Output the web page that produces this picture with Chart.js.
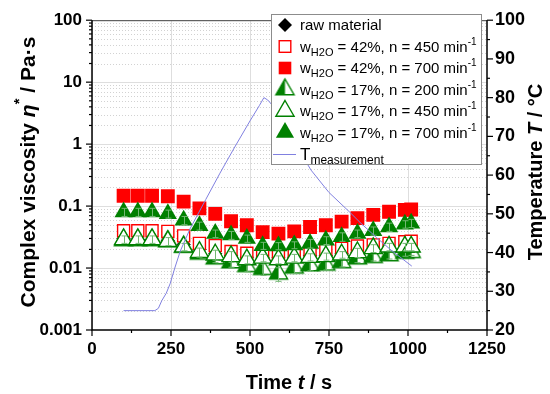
<!DOCTYPE html>
<html><head><meta charset="utf-8">
<script src="https://cdn.jsdelivr.net/npm/chart.js@4/dist/chart.umd.min.js"></script>
<style>html,body{margin:0;padding:0;background:#fff}canvas{display:block}</style>
</head><body>
<canvas id="c" width="550" height="394"></canvas>
<script>
// ---------------- data ----------------
const times = [100,145,190,240,290,340,390,440,490,540,590,640,690,740,790,840,890,940,990,1010];
const rawMaterial = [0.030,0.029,0.029,0.028,0.024,0.020,0.017,0.016,0.015,0.015,0.015,0.015,0.016,0.016,0.017,0.018,0.018,0.019,0.019,0.019];
const rawErr      = [0.004,0.004,0.004,0.004,0.004,0.004,0.004,0.004,0.004,0.004,0.004,0.004,0.005,0.005,0.004,0.004,0.004,0.003,0.003,0.003];
const w42n450 = [0.040,0.040,0.040,0.039,0.033,0.025,0.023,0.0185,0.0173,0.0173,0.016,0.0171,0.0178,0.0196,0.0208,0.0227,0.0236,0.025,0.0265,0.027];
const w42n700 = [0.147,0.147,0.147,0.144,0.118,0.092,0.075,0.057,0.049,0.038,0.036,0.039,0.046,0.049,0.056,0.064,0.072,0.081,0.087,0.088];
const w17n200 = [0.028,0.028,0.028,0.027,0.022,0.017,0.0142,0.0123,0.0107,0.0096,0.0081,0.0101,0.011,0.0113,0.0124,0.0142,0.015,0.016,0.0175,0.018];
const w17n200Err = [0.003,0.003,0.003,0.003,0.003,0.002,0.002,0.002,0.002,0.002,0.002,0.002,0.002,0.002,0.002,0.002,0.002,0.002,0.002,0.002];
const w17n450 = [0.029,0.029,0.029,0.027,0.022,0.018,0.0164,0.0154,0.0137,0.0146,0.0137,0.0146,0.015,0.0154,0.0164,0.0178,0.0208,0.022,0.022,0.022];
const w17n450Err = [0.004,0.004,0.004,0.004,0.003,0.003,0.003,0.003,0.002,0.002,0.002,0.002,0.002,0.002,0.002,0.003,0.003,0.003,0.003,0.003];
const w17n700 = [0.080,0.080,0.080,0.075,0.059,0.048,0.036,0.034,0.030,0.023,0.0227,0.0235,0.025,0.028,0.032,0.036,0.040,0.046,0.051,0.053];
const w17n700Err = [0.012,0.012,0.012,0.011,0.009,0.007,0.005,0.005,0.004,0.003,0.003,0.003,0.004,0.004,0.005,0.005,0.006,0.007,0.007,0.008];
const tempTime  = [100,199,210,221,235,247,262,279,310,360,405,450,500,530,544,556,569,693,750,816,848,900,950,1012];
const tempValue = [25,25,25.6,27.6,29.5,31.9,36,40.3,46.1,53.7,60.5,67,74,78,80,79.4,78.2,61.3,55.5,50.4,47.8,43.9,40.4,36.5];
const xTicks = [0,250,500,750,1000,1250];
const xTickLabels = ['0','250','500','750','1000','1250'];
const yTicks = [0.001,0.01,0.1,1,10,100];
const yTickLabels = ['0.001','0.01','0.1','1','10','100'];
const y2Ticks = [20,30,40,50,60,70,80,90,100];
const y2TickLabels = ['20','30','40','50','60','70','80','90','100'];
const waterContent = ['42%','42%','17%','17%','17%'];
const screwSpeed = ['450','700','200','450','700'];

// ---------------- styling ----------------
const FF = '"Liberation Sans", Arial, Helvetica, sans-serif';
const GREEN = '#008000', RED = '#ff0000', TCOL = '#8080e0', EGREEN = '#72b872';

function pts(vals){ return times.map((t,i)=>({x:t, y:vals[i]})); }

function mkHalfTri(r, color){
  const s = Math.ceil(2*r+4); const c = document.createElement('canvas'); c.width=s; c.height=s;
  const g = c.getContext('2d'); const cx=s/2, cy=s/2, h=r*Math.sqrt(3)/2;
  g.beginPath(); g.moveTo(cx,cy-r); g.lineTo(cx+h,cy+r/2); g.lineTo(cx-h,cy+r/2); g.closePath();
  g.fillStyle='#fff'; g.fill();
  g.beginPath(); g.moveTo(cx,cy-r); g.lineTo(cx,cy+r/2); g.lineTo(cx-h,cy+r/2); g.closePath();
  g.fillStyle=color; g.fill();
  g.beginPath(); g.moveTo(cx,cy-r); g.lineTo(cx+h,cy+r/2); g.lineTo(cx-h,cy+r/2); g.closePath();
  g.lineWidth=1.4; g.strokeStyle=color; g.stroke();
  return c;
}
const halfTri = mkHalfTri(10.5, GREEN);

function drawMarker(ctx, kind, x, y){
  ctx.save();
  const tri = (r)=>{ const h=r*Math.sqrt(3)/2; ctx.beginPath(); ctx.moveTo(x,y-r); ctx.lineTo(x+h,y+r/2); ctx.lineTo(x-h,y+r/2); ctx.closePath(); };
  if (kind==='diamond'){ const r=7; ctx.beginPath(); ctx.moveTo(x,y-r); ctx.lineTo(x+r,y); ctx.lineTo(x,y+r); ctx.lineTo(x-r,y); ctx.closePath(); ctx.fillStyle='#000'; ctx.fill(); }
  else if (kind==='openSquare'){ const s=5.8; ctx.fillStyle='#fff'; ctx.fillRect(x-s,y-s,2*s,2*s); ctx.strokeStyle=RED; ctx.lineWidth=1.4; ctx.strokeRect(x-s,y-s,2*s,2*s); }
  else if (kind==='square'){ const s=6.3; ctx.fillStyle=RED; ctx.fillRect(x-s,y-s,2*s,2*s); }
  else if (kind==='halfTri'){ ctx.drawImage(halfTri, x-halfTri.width/2, y-halfTri.height/2); }
  else if (kind==='openTri'){ tri(10.5); ctx.fillStyle='#fff'; ctx.fill(); ctx.strokeStyle=GREEN; ctx.lineWidth=1.4; ctx.stroke(); }
  else if (kind==='tri'){ tri(10.5); ctx.fillStyle=GREEN; ctx.fill(); }
  else if (kind==='line'){ ctx.strokeStyle=TCOL; ctx.lineWidth=1; ctx.beginPath(); ctx.moveTo(273,y+0.5); ctx.lineTo(296,y+0.5); ctx.stroke(); }
  ctx.restore();
}

function rich(ctx, x, y, parts){
  let cx=x;
  for (const p of parts){ ctx.font=p.f; ctx.fillText(p.t, cx, y+(p.dy||0)); cx+=ctx.measureText(p.t).width; }
  return cx;
}
function richWidth(ctx, parts){ let w=0; for (const p of parts){ ctx.font=p.f; w+=ctx.measureText(p.t).width; } return w; }
function richCentered(ctx, cx, cy, parts, rot, capOff){
  ctx.save(); ctx.translate(cx,cy); ctx.rotate(rot);
  const w = richWidth(ctx, parts);
  ctx.textBaseline='alphabetic'; ctx.fillStyle='#000';
  rich(ctx, -w/2, capOff, parts);
  ctx.restore();
}

// ---------------- plugins ----------------
const gridPlugin = {
  id:'gridAxes',
  beforeDatasetsDraw(chart){
    const {ctx, chartArea:a, scales:{x,y}} = chart;
    ctx.save();
    ctx.beginPath(); ctx.rect(a.left,a.top,a.right-a.left,a.bottom-a.top); ctx.clip();
    ctx.lineWidth=1;
    ctx.strokeStyle='#d2d2d2'; ctx.setLineDash([1,2]);
    for (let d=0; d<yTicks.length-1; d++){
      for (let m=2; m<=9; m++){
        const py = Math.round(y.getPixelForValue(yTicks[d]*m))+0.5;
        ctx.beginPath(); ctx.moveTo(a.left,py); ctx.lineTo(a.right,py); ctx.stroke();
      }
    }
    ctx.setLineDash([]);
    ctx.strokeStyle='#dedede';
    for (const v of yTicks){ const py=Math.round(y.getPixelForValue(v))+0.5; ctx.beginPath(); ctx.moveTo(a.left,py); ctx.lineTo(a.right,py); ctx.stroke(); }
    for (const v of xTicks){ const px=Math.round(x.getPixelForValue(v))+0.5; ctx.beginPath(); ctx.moveTo(px,a.top); ctx.lineTo(px,a.bottom); ctx.stroke(); }
    ctx.restore();
  },
  afterDatasetDraw(chart, args){
    const ds = chart.data.datasets[args.index];
    if (!ds.errors) return;
    const {ctx, scales:{x,y}} = chart;
    ctx.save(); ctx.strokeStyle=ds.errColor; ctx.lineWidth=1;
    ds.data.forEach((p,i)=>{
      const e=ds.errors[i]; const px=Math.round(x.getPixelForValue(p.x))+0.5;
      const y1=y.getPixelForValue(p.y+e), y2=y.getPixelForValue(Math.max(p.y-e,1e-4));
      ctx.beginPath(); ctx.moveTo(px,y1); ctx.lineTo(px,y2);
      ctx.moveTo(px-3,y1); ctx.lineTo(px+3,y1); ctx.moveTo(px-3,y2); ctx.lineTo(px+3,y2); ctx.stroke();
    });
    ctx.restore();
  },
  afterDraw(chart){
    const {ctx, chartArea:a, scales:{x,y,y2}} = chart;
    ctx.save();
    ctx.strokeStyle='#444'; ctx.lineWidth=1;
    ctx.beginPath(); ctx.moveTo(a.left,a.top+0.5); ctx.lineTo(a.right,a.top+0.5); ctx.stroke();
    ctx.strokeStyle='#000'; ctx.lineWidth=1.5;
    ctx.beginPath(); ctx.moveTo(a.left,a.top); ctx.lineTo(a.left,a.bottom); ctx.lineTo(a.right,a.bottom); ctx.lineTo(a.right,a.top); ctx.stroke();
    ctx.lineWidth=1.2;
    for (let d=0; d<yTicks.length; d++){
      const py=y.getPixelForValue(yTicks[d]);
      ctx.beginPath(); ctx.moveTo(a.left-6,py); ctx.lineTo(a.left,py); ctx.stroke();
      if (d<yTicks.length-1) for (let m=2;m<=9;m++){ const q=y.getPixelForValue(yTicks[d]*m); ctx.beginPath(); ctx.moveTo(a.left-3,q); ctx.lineTo(a.left,q); ctx.stroke(); }
    }
    for (let i=0;i<xTicks.length;i++){
      const px=x.getPixelForValue(xTicks[i]);
      ctx.beginPath(); ctx.moveTo(px,a.bottom); ctx.lineTo(px,a.bottom+6); ctx.stroke();
      if (i<xTicks.length-1){ const q=x.getPixelForValue((xTicks[i]+xTicks[i+1])/2); ctx.beginPath(); ctx.moveTo(q,a.bottom); ctx.lineTo(q,a.bottom+3); ctx.stroke(); }
    }
    for (let i=0;i<y2Ticks.length;i++){
      const py=y2.getPixelForValue(y2Ticks[i]);
      ctx.beginPath(); ctx.moveTo(a.right,py); ctx.lineTo(a.right+6,py); ctx.stroke();
      if (i<y2Ticks.length-1){ const q=y2.getPixelForValue((y2Ticks[i]+y2Ticks[i+1])/2); ctx.beginPath(); ctx.moveTo(a.right,q); ctx.lineTo(a.right+3,q); ctx.stroke(); }
    }
    const B = s=>'bold '+s+'px '+FF, BI = s=>'italic bold '+s+'px '+FF;
    richCentered(ctx, 289, 382, [{t:'Time ',f:B(20)},{t:'t',f:BI(20)},{t:' / s',f:B(20)}], 0, 7);
    richCentered(ctx, 27, 172, [{t:'Complex viscosity ',f:B(21)},{t:'\u03B7',f:BI(21)},{t:'*',f:B(15),dy:-11},{t:' / Pa\u00B7s',f:B(21)}], -Math.PI/2, 7.5);
    richCentered(ctx, 535, 172, [{t:'Temperature ',f:B(20)},{t:'T',f:BI(20)},{t:' / \u00B0C',f:B(20)}], -Math.PI/2, 7);
    const L=271, T=14, R=482, Bt=165;
    ctx.fillStyle='#fff'; ctx.fillRect(L,T,R-L,Bt-T);
    ctx.strokeStyle='#8c8c8c'; ctx.lineWidth=1; ctx.strokeRect(L+0.5,T+0.5,R-L-1,Bt-T-1);
    const rows=[25,46.5,68,89.5,111,132.5,154];
    const kinds=['diamond','openSquare','square','halfTri','openTri','tri','line'];
    const N=s=>s+'px '+FF;
    ctx.textBaseline='alphabetic';
    rows.forEach((ry,i)=>{
      drawMarker(ctx, kinds[i], 285, ry);
      ctx.fillStyle='#000';
      const by = ry+5;
      if (i===0) rich(ctx,300,by,[{t:'raw material',f:N(15)}]);
      else if (i<6){ const k=i-1;
        rich(ctx,300,by,[{t:'w',f:N(15)},{t:'H2O',f:N(11),dy:4},{t:' = '+waterContent[k]+', n = '+screwSpeed[k]+' min',f:N(15)},{t:'-1',f:N(10),dy:-7}]);
      } else rich(ctx,300,by+1,[{t:'T',f:N(17)},{t:'measurement',f:N(12),dy:4}]);
    });
    ctx.restore();
  }
};

// ---------------- chart ----------------
const tickFont = s=>({family:FF, size:s, weight:'bold'});
new Chart(document.getElementById('c'), {
  type:'scatter',
  data:{ datasets:[
    {label:'Tmeasurement', type:'line', data: tempTime.map((t,i)=>({x:t,y:tempValue[i]})), yAxisID:'y2', borderColor:TCOL, borderWidth:1, pointRadius:0, fill:false, tension:0, order:0},
    {label:'raw material', data:pts(rawMaterial), yAxisID:'y', pointStyle:'rectRot', pointRadius:6.5, backgroundColor:'#000', borderColor:'#000', borderWidth:1, errors:rawErr, errColor:'#000', order:6},
    {label:'wH2O = 42%, n = 450 min-1', data:pts(w42n450), yAxisID:'y', pointStyle:'rect', pointRadius:8.5, backgroundColor:'#fff', borderColor:RED, borderWidth:1.4, order:5},
    {label:'wH2O = 42%, n = 700 min-1', data:pts(w42n700), yAxisID:'y', pointStyle:'rect', pointRadius:9.8, backgroundColor:RED, borderColor:RED, borderWidth:0, order:4},
    {label:'wH2O = 17%, n = 200 min-1', data:pts(w17n200), yAxisID:'y', pointStyle:halfTri, pointRadius:10.5, errors:w17n200Err, errColor:EGREEN, order:3},
    {label:'wH2O = 17%, n = 450 min-1', data:pts(w17n450), yAxisID:'y', pointStyle:'triangle', pointRadius:10.5, backgroundColor:'#fff', borderColor:GREEN, borderWidth:1.4, errors:w17n450Err, errColor:EGREEN, order:2},
    {label:'wH2O = 17%, n = 700 min-1', data:pts(w17n700), yAxisID:'y', pointStyle:'triangle', pointRadius:10.5, backgroundColor:GREEN, borderColor:GREEN, borderWidth:0, errors:w17n700Err, errColor:EGREEN, order:1}
  ]},
  options:{
    responsive:false, animation:false, devicePixelRatio:1,
    layout:{padding:{top:14,left:0,right:0,bottom:0}},
    plugins:{legend:{display:false}, tooltip:{enabled:false}},
    events:[],
    scales:{
      x:{type:'linear', position:'bottom', min:0, max:1250,
         afterBuildTicks:s=>{s.ticks=xTicks.map(v=>({value:v}));},
         ticks:{font:tickFont(17), color:'#000', padding:9, maxRotation:0, autoSkip:false, callback:(v,i)=>xTickLabels[i]},
         grid:{display:false, drawTicks:false, tickLength:0}, border:{display:false},
         afterFit:s=>{s.height=64;}},
      y:{type:'logarithmic', position:'left', min:0.001, max:100,
         afterBuildTicks:s=>{s.ticks=yTicks.map(v=>({value:v}));},
         ticks:{font:tickFont(17), color:'#000', padding:10, autoSkip:false, callback:(v,i)=>yTickLabels[i]},
         grid:{display:false, drawTicks:false, tickLength:0}, border:{display:false},
         afterFit:s=>{s.width=92;}},
      y2:{type:'linear', position:'right', min:20, max:100,
         afterBuildTicks:s=>{s.ticks=y2Ticks.map(v=>({value:v}));},
         ticks:{font:tickFont(18), color:'#000', padding:8, autoSkip:false, callback:(v,i)=>y2TickLabels[i]},
         grid:{display:false, drawTicks:false, tickLength:0}, border:{display:false},
         afterFit:s=>{s.width=63;}}
    }
  },
  plugins:[gridPlugin]
});
</script>
</body></html>
